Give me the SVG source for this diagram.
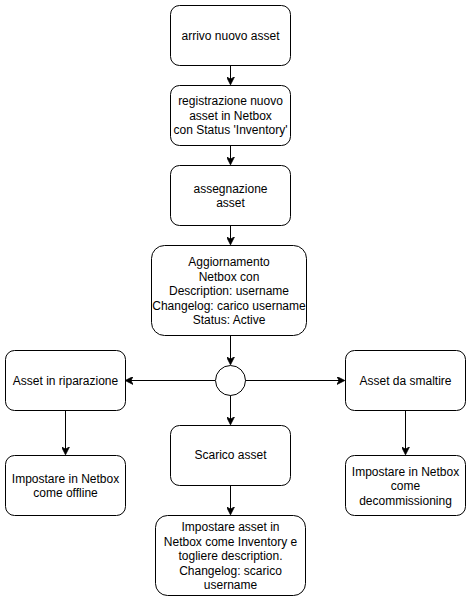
<svg xmlns="http://www.w3.org/2000/svg" width="472" height="602" viewBox="0 0 472 602">
<style>
.n rect, .n circle { fill: #ffffff; stroke: #000000; stroke-width: 1; }
.n text { font-family: "Liberation Sans", Arial, sans-serif; font-size: 12px; fill: #000000; text-anchor: middle; }
.e path { fill: none; stroke: #000000; stroke-width: 1; marker-end: url(#arr); }
</style>
<defs>
<marker id="arr" viewBox="0 0 10 10" refX="9" refY="5" markerWidth="8" markerHeight="8" markerUnits="userSpaceOnUse" orient="auto">
<path d="M0,0 L10,5 L0,10 L3,5 Z" fill="#000000" stroke="#000000" stroke-width="1"/>
</marker>
</defs>
<rect width="472" height="602" fill="#ffffff"/>
<g class="e" id="connectors">
<path d="M230.5,65 L230.5,84"/>
<path d="M230.5,145 L230.5,164"/>
<path d="M230.5,225 L230.5,244"/>
<path d="M230.5,335 L230.5,364"/>
<path d="M215,380.5 L126,380.5"/>
<path d="M245,380.5 L344,380.5"/>
<path d="M230.5,395 L230.5,424"/>
<path d="M65.5,410 L65.5,454"/>
<path d="M405.5,410 L405.5,454"/>
<path d="M230.5,485 L230.5,514"/>
</g>
<g class="n" id="n1"><rect x="170.5" y="5.5" width="120" height="60" rx="9"/><text x="230.5" y="39.5">arrivo nuovo asset</text></g>
<g class="n" id="n2"><rect x="170.5" y="85.5" width="120" height="60" rx="9"/><text x="230.5" y="105">registrazione nuovo</text><text x="230.5" y="119.5">asset in Netbox</text><text x="230.5" y="134">con Status 'Inventory'</text></g>
<g class="n" id="n3"><rect x="170.5" y="165.5" width="120" height="60" rx="9"/><text x="230.5" y="192.5">assegnazione</text><text x="230.5" y="207">asset</text></g>
<g class="n" id="n4"><rect x="151.5" y="245.5" width="155" height="90" rx="13"/><text x="229" y="266">Aggiornamento</text><text x="229" y="280.5">Netbox con</text><text x="229" y="295">Description: username</text><text x="229" y="309.5">Changelog: carico username</text><text x="229" y="324">Status: Active</text></g>
<g class="n" id="n5"><circle cx="230.5" cy="380.5" r="15"/></g>
<g class="n" id="n6"><rect x="5.5" y="350.5" width="120" height="60" rx="9"/><text x="65.5" y="384.5">Asset in riparazione</text></g>
<g class="n" id="n7"><rect x="345.5" y="350.5" width="120" height="60" rx="9"/><text x="405.5" y="384.5">Asset da smaltire</text></g>
<g class="n" id="n8"><rect x="170.5" y="425.5" width="120" height="60" rx="9"/><text x="230.5" y="459">Scarico asset</text></g>
<g class="n" id="n9"><rect x="5.5" y="455.5" width="120" height="60" rx="9"/><text x="65.5" y="482.5">Impostare in Netbox</text><text x="65.5" y="497">come offline</text></g>
<g class="n" id="n10"><rect x="345.5" y="455.5" width="120" height="60" rx="9"/><text x="405.5" y="475.5">Impostare in Netbox</text><text x="405.5" y="490">come</text><text x="405.5" y="504.5">decommissioning</text></g>
<g class="n" id="n11"><rect x="155.5" y="515.5" width="150" height="80" rx="12"/><text x="230.5" y="531">Impostare asset in</text><text x="230.5" y="545.5">Netbox come Inventory e</text><text x="230.5" y="560">togliere description.</text><text x="230.5" y="574.5">Changelog: scarico</text><text x="230.5" y="589">username</text></g>
</svg>
